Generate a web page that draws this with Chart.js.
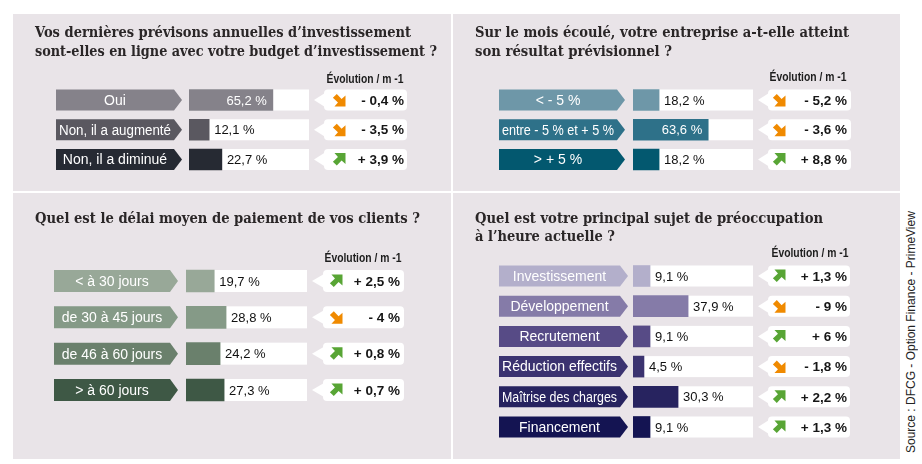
<!DOCTYPE html>
<html lang="fr">
<head>
<meta charset="utf-8">
<title>Baromètre DFCG</title>
<script src="https://cdn.jsdelivr.net/npm/chart.js@4.4.1/dist/chart.umd.min.js"></script>
<style>
  html, body { margin: 0; padding: 0; background: #ffffff; }
  body { width: 922px; height: 464px; position: relative; overflow: hidden; }
  canvas { position: absolute; background: #e9e4e8; }
  #source {
    position: absolute; left: 904px; top: 205px; width: 14px; height: 254px;
    writing-mode: vertical-rl; transform: rotate(180deg); text-align: center;
    font: 12px "Liberation Sans", Arial, sans-serif; line-height: 14px; color: #222;
  }
</style>
</head>
<body>
<canvas id="q1"></canvas>
<canvas id="q2"></canvas>
<canvas id="q3"></canvas>
<canvas id="q4"></canvas>
<div id="source">Source : DFCG - Option Finance - PrimeView</div>

<script>
const evolutionHeader = 'Évolution / m -1';

const q1Title = ['Vos dernières prévisons annuelles d’investissement', 'sont-elles en ligne avec votre budget d’investissement ?'];
const q1Labels = ['Oui', 'Non, il a augmenté', 'Non, il a diminué'];
const q1Values = [65.2, 12.1, 22.7];
const q1Evolution = [-0.4, -3.5, 3.9];

const q2Title = ['Sur le mois écoulé, votre entreprise a-t-elle atteint', 'son résultat prévisionnel ?'];
const q2Labels = ['< - 5 %', 'entre - 5 % et + 5 %', '> + 5 %'];
const q2Values = [18.2, 63.6, 18.2];
const q2Evolution = [-5.2, -3.6, 8.8];

const q3Title = ['Quel est le délai moyen de paiement de vos clients ?'];
const q3Labels = ['< à 30 jours', 'de 30 à 45 jours', 'de 46 à 60 jours', '> à 60 jours'];
const q3Values = [19.7, 28.8, 24.2, 27.3];
const q3Evolution = [2.5, -4, 0.8, 0.7];

const q4Title = ['Quel est votre principal sujet de préoccupation', 'à l’heure actuelle ?'];
const q4Labels = ['Investissement', 'Développement', 'Recrutement', 'Réduction effectifs', 'Maîtrise des charges', 'Financement'];
const q4Values = [9.1, 37.9, 9.1, 4.5, 30.3, 9.1];
const q4Evolution = [1.3, -9, 6, -1.8, 2.2, 1.3];

const TITLE_FONT = 'bold 14px "DejaVu Serif", serif';
const LABEL_FONT = '14px "Liberation Sans Narrow", "Liberation Sans", sans-serif';
const VALUE_FONT = '13px "Liberation Sans", Arial, sans-serif';
const EVO_FONT = 'bold 13.5px "Liberation Sans", Arial, sans-serif';
const HEAD_FONT = 'bold 12px "Liberation Sans Narrow", "Liberation Sans", sans-serif';

function fmt(v) {
    return String(v).replace('.', ',');
}

function fmtEvo(v) {
    return (v < 0 ? '- ' : '+ ') + fmt(Math.abs(v)) + ' %';
}

/**
 * Flèche diagonale épaisse (vert = hausse, orange = baisse)
 */
function drawArrow(ctx, cx, cy, up, s) {
    const pts = [[0.15, 0], [1, 0], [1, 0.85], [0.7, 0.58], [0.33, 0.97], [0.03, 0.67], [0.42, 0.3]];
    ctx.beginPath();
    pts.forEach(([px, py], k) => {
        const X = cx - s / 2 + px * s;
        const Y = up ? cy - s / 2 + py * s : cy + s / 2 - py * s;
        if (k) ctx.lineTo(X, Y); else ctx.moveTo(X, Y);
    });
    ctx.closePath();
    ctx.fillStyle = up ? '#58a535' : '#f08a00';
    ctx.fill();
}

function roundRect(ctx, x, y, w, h, r) {
    ctx.beginPath();
    ctx.moveTo(x + r, y);
    ctx.lineTo(x + w - r, y);
    ctx.quadraticCurveTo(x + w, y, x + w, y + r);
    ctx.lineTo(x + w, y + h - r);
    ctx.quadraticCurveTo(x + w, y + h, x + w - r, y + h);
    ctx.lineTo(x + r, y + h);
    ctx.quadraticCurveTo(x, y + h, x, y + h - r);
    ctx.lineTo(x, y + r);
    ctx.quadraticCurveTo(x, y, x + r, y);
    ctx.closePath();
}

/**
 * Construit un panneau (une question) : barres Chart.js + habillage
 */
function buildPanel(canvasId, cfg) {
    const canvas = document.getElementById(canvasId);
    const b = cfg.box;
    canvas.width = b.w;
    canvas.height = b.h;
    canvas.style.left = b.x + 'px';
    canvas.style.top = b.y + 'px';
    canvas.style.width = b.w + 'px';
    canvas.style.height = b.h + 'px';

    const n = cfg.labels.length;
    const pitch = (cfg.rows[1] - cfg.rows[0]) / (n - 1);
    const top = cfg.rows[0] - pitch / 2;
    const bottom = cfg.rows[1] + pitch / 2;
    const ox = b.x, oy = b.y;
    const h = cfg.barH;

    const decor = {
        id: 'decor_' + canvasId,
        beforeDatasetsDraw(chart) {
            const ctx = chart.ctx;
            const bars = chart.getDatasetMeta(0).data;
            ctx.save();

            // titre
            ctx.font = TITLE_FONT;
            ctx.fillStyle = '#2a2627';
            ctx.textAlign = 'left';
            ctx.textBaseline = 'alphabetic';
            cfg.title.forEach((line, k) => {
                ctx.fillText(line, cfg.titleX - ox, cfg.titleY[k] - oy, cfg.titleW[k]);
            });

            // en-tête évolution
            ctx.font = HEAD_FONT;
            ctx.textAlign = 'center';
            ctx.textBaseline = 'middle';
            ctx.fillStyle = '#1d1d1d';
            ctx.fillText(evolutionHeader, cfg.head[0] - ox, cfg.head[1] - oy, 77);

            bars.forEach((el, i) => {
                const y = el.y;
                // piste blanche
                ctx.fillStyle = '#ffffff';
                ctx.fillRect(cfg.track[0] - ox, y - h / 2, cfg.track[1] - cfg.track[0], h);

                // étiquette en flèche
                const L = cfg.tag[0] - ox, R = cfg.tag[1] - ox, T = cfg.tag[2] - ox;
                ctx.beginPath();
                ctx.moveTo(L, y - h / 2);
                ctx.lineTo(R, y - h / 2);
                ctx.lineTo(T, y);
                ctx.lineTo(R, y + h / 2);
                ctx.lineTo(L, y + h / 2);
                ctx.closePath();
                ctx.fillStyle = cfg.colors[i];
                ctx.fill();
                ctx.font = LABEL_FONT;
                ctx.fillStyle = '#ffffff';
                ctx.textAlign = 'center';
                ctx.fillText(cfg.labels[i], (L + R) / 2, y + 1, R - L - 6);

                // bulle évolution
                const e = cfg.evo;
                ctx.fillStyle = '#ffffff';
                roundRect(ctx, e[1] - ox, y - h / 2, e[2] - e[1], h, 4);
                ctx.fill();
                ctx.beginPath();
                ctx.moveTo(e[0] - ox, y);
                ctx.lineTo(e[1] - ox + 1, y - 7);
                ctx.lineTo(e[1] - ox + 1, y + 7);
                ctx.closePath();
                ctx.fill();
                drawArrow(ctx, e[3] - ox, y, cfg.evolution[i] > 0, 13);
                ctx.font = EVO_FONT;
                ctx.fillStyle = '#161616';
                ctx.textAlign = 'right';
                ctx.fillText(fmtEvo(cfg.evolution[i]), e[4] - ox, y + 1);
            });
            ctx.restore();
        },
        afterDatasetsDraw(chart) {
            const ctx = chart.ctx;
            const bars = chart.getDatasetMeta(0).data;
            ctx.save();
            ctx.font = VALUE_FONT;
            ctx.textBaseline = 'middle';
            bars.forEach((el, i) => {
                const txt = fmt(cfg.values[i]) + ' %';
                if (el.x - el.base > 60) {
                    ctx.fillStyle = '#ffffff';
                    ctx.textAlign = 'right';
                    ctx.fillText(txt, el.x - 6, el.y + 1);
                } else {
                    ctx.fillStyle = '#111111';
                    ctx.textAlign = 'left';
                    ctx.fillText(txt, el.x + 5, el.y + 1);
                }
            });
            ctx.restore();
        }
    };

    return new Chart(canvas, {
        type: 'bar',
        data: {
            labels: cfg.labels,
            datasets: [{
                data: cfg.values,
                backgroundColor: cfg.colors,
                base: cfg.scale[0],
                barThickness: h,
                borderWidth: 0
            }]
        },
        options: {
            indexAxis: 'y',
            responsive: false,
            maintainAspectRatio: false,
            animation: false,
            layout: {
                padding: {
                    left: cfg.track[0] - ox,
                    right: ox + b.w - cfg.track[1],
                    top: top - oy,
                    bottom: oy + b.h - bottom
                }
            },
            scales: {
                x: { display: false, min: cfg.scale[0], max: cfg.scale[1] },
                y: { display: false }
            },
            plugins: {
                legend: { display: false },
                tooltip: { enabled: false }
            }
        },
        plugins: [decor]
    });
}

buildPanel('q1', {
    box: { x: 13, y: 14, w: 438, h: 177 },
    title: q1Title, titleX: 35, titleY: [37, 56], titleW: [376, 402],
    labels: q1Labels, values: q1Values, evolution: q1Evolution,
    colors: ['#85828a', '#5a5860', '#262a33'],
    rows: [100, 159.5], barH: 21,
    track: [189, 309], scale: [-4.7, 95.3],
    tag: [56, 174, 182],
    evo: [314, 324, 407, 339, 404],
    head: [365, 80]
});

buildPanel('q2', {
    box: { x: 453, y: 14, w: 447, h: 177 },
    title: q2Title, titleX: 475, titleY: [37, 56], titleW: [374, 197],
    labels: q2Labels, values: q2Values, evolution: q2Evolution,
    colors: ['#6e97a8', '#2e7189', '#03586f'],
    rows: [100, 159.5], barH: 21,
    track: [633, 753], scale: [-5.9, 105],
    tag: [499, 617, 625],
    evo: [758, 768, 851, 779, 847],
    head: [808, 78]
});

buildPanel('q3', {
    box: { x: 13, y: 193, w: 438, h: 266 },
    title: q3Title, titleX: 35, titleY: [223], titleW: [385],
    labels: q3Labels, values: q3Values, evolution: q3Evolution,
    colors: ['#98a898', '#859a87', '#6a806c', '#3e5845'],
    rows: [281, 390], barH: 22,
    track: [186, 307], scale: [-2, 91],
    tag: [54, 170, 178],
    evo: [312, 323, 404, 336, 400],
    head: [363, 259]
});

buildPanel('q4', {
    box: { x: 453, y: 193, w: 447, h: 266 },
    title: q4Title, titleX: 475, titleY: [223, 241], titleW: [348, 140],
    labels: q4Labels, values: q4Values, evolution: q4Evolution,
    colors: ['#b3afcb', '#857ba8', '#574b86', '#3b3370', '#27235f', '#141452'],
    rows: [276, 427], barH: 21,
    track: [633, 753], scale: [-3.8, 87],
    tag: [499, 620, 628],
    evo: [758, 768, 850, 779, 847],
    head: [810, 254]
});
</script>
</body>
</html>
